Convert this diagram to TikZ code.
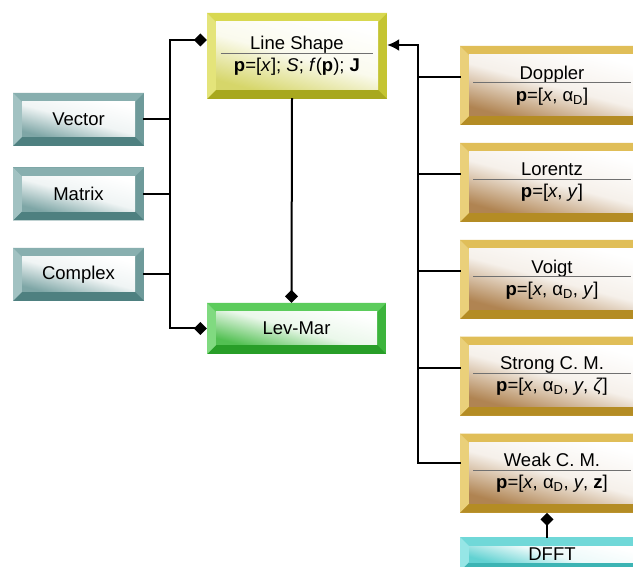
\documentclass[tikz,border=0pt]{standalone}
\usepackage{fontspec}
\setmainfont{Liberation Sans}
\usetikzlibrary{arrows.meta,positioning,calc}

\definecolor{oliveT}{HTML}{D8D850}
\definecolor{oliveL}{HTML}{E4E47A}
\definecolor{oliveR}{HTML}{C4C432}
\definecolor{oliveB}{HTML}{A8A81E}
\definecolor{oliveI}{HTML}{D6D66A}
\definecolor{tealT}{HTML}{88AFAF}
\definecolor{tealL}{HTML}{A2C2C2}
\definecolor{tealR}{HTML}{6E9A9A}
\definecolor{tealB}{HTML}{4E8080}
\definecolor{tealI}{HTML}{7EA6A6}
\definecolor{greenT}{HTML}{5CCC5C}
\definecolor{greenL}{HTML}{80DA80}
\definecolor{greenR}{HTML}{3CB43C}
\definecolor{greenB}{HTML}{289E28}
\definecolor{greenI}{HTML}{52C052}
\definecolor{goldT}{HTML}{E0BE58}
\definecolor{goldL}{HTML}{EAD07A}
\definecolor{goldR}{HTML}{C8A040}
\definecolor{goldB}{HTML}{B48C24}
\definecolor{goldI}{HTML}{B08452}
\definecolor{cyanT}{HTML}{70D8D8}
\definecolor{cyanL}{HTML}{96E6E6}
\definecolor{cyanR}{HTML}{50C8C8}
\definecolor{cyanB}{HTML}{3CB4B4}
\definecolor{cyanI}{HTML}{62D2D2}
\definecolor{sepgray}{HTML}{707070}

\newlength{\bv}\setlength{\bv}{9pt}
\newcommand{\sepline}[1]{\textcolor{sepgray}{\rule{#1}{0.9pt}}}
\newcommand{\pv}{\textbf{p}}
\newcommand{\aD}{α\textsubscript{D}}

\tikzset{
  bevel node/.style n args={5}{rectangle, fill=#3, inner sep=0pt, align=center,
    font=\fontsize{18.5}{20}\selectfont,
    path picture={
      \coordinate (sw) at (path picture bounding box.south west);
      \coordinate (nw) at (path picture bounding box.north west);
      \coordinate (ne) at (path picture bounding box.north east);
      \coordinate (se) at (path picture bounding box.south east);
      \fill[#1] (nw) -- (ne) -- ($(ne)+(-\bv,-\bv)$) -- ($(nw)+(\bv,-\bv)$) -- cycle;
      \fill[#4] (sw) -- (se) -- ($(se)+(-\bv,\bv)$) -- ($(sw)+(\bv,\bv)$) -- cycle;
      \fill[#2] (sw) -- (nw) -- ($(nw)+(\bv,-\bv)$) -- ($(sw)+(\bv,\bv)$) -- cycle;
      \shade[top color=white, bottom color=#5, middle color=#5!12!white, shading angle=-15]
        ($(sw)+(\bv,\bv)$) rectangle ($(ne)+(-\bv,-\bv)$);
    }},
  olive node/.style={bevel node={oliveT}{oliveL}{oliveR}{oliveB}{oliveI},
    minimum width=180pt, minimum height=86pt},
  teal node/.style={bevel node={tealT}{tealL}{tealR}{tealB}{tealI},
    minimum width=131pt, minimum height=53pt},
  green node/.style={bevel node={greenT}{greenL}{greenR}{greenB}{greenI},
    minimum width=179pt, minimum height=51pt},
  gold node/.style={bevel node={goldT}{goldL}{goldR}{goldB}{goldI},
    minimum width=184pt, minimum height=79pt},
  cyan node/.style={bevel node={cyanT}{cyanL}{cyanR}{cyanB}{cyanI},
    minimum width=184pt, minimum height=34pt},
  link/.style={line width=2pt, line cap=rect},
  dia/.style={-{Diamond[length=13pt,width=13pt]}}
}

\begin{document}
\begin{tikzpicture}[x=1pt,y=-1pt]
  \clip (0,0) rectangle (633,567);
  \fill[white] (0,0) rectangle (633,567);

  % centre column
  \node[olive node] (ls) at (297,56)
    {Line Shape\\[-16pt]\sepline{153pt}\\[-2pt]\pv=[\textit{x}]; \textit{S}; \textit{f}(\pv); \textbf{J}};
  \node[green node] (lm) at (296.5,328.5) {Lev-Mar};

  % left column
  \node[teal node] (vec) at (78.5,119.5) {Vector};
  \node[teal node, below=21pt of vec] (mat) {Matrix};
  \node[teal node, below=27pt of mat] (cpx) {Complex};

  % right column
  \node[gold node] (dop) at (552,85.5)
    {Doppler\\[-16pt]\sepline{158pt}\\[-2pt]\pv=[\textit{x}, \aD]};
  \node[gold node, below=17.5pt of dop] (lor)
    {Lorentz\\[-16pt]\sepline{158pt}\\[-2pt]\pv=[\textit{x}, \textit{y}]};
  \node[gold node, below=17.5pt of lor] (voi)
    {Voigt\\[-16pt]\sepline{158pt}\\[-2pt]\pv=[\textit{x}, \aD, \textit{y}]};
  \node[gold node, below=17.5pt of voi] (scm)
    {Strong C. M.\\[-16pt]\sepline{158pt}\\[-2pt]\pv=[\textit{x}, \aD, \textit{y}, \textit{ζ}]};
  \node[gold node, below=17.5pt of scm] (wk)
    {Weak C. M.\\[-16pt]\sepline{158pt}\\[-2pt]\pv=[\textit{x}, \aD, \textit{y}, \textbf{z}]};
  \node[cyan node, below=24pt of wk] (dfft) {DFFT};

  % buses
  \coordinate (lt) at (170,40);
  \coordinate (lb) at (lt |- lm.west);
  \coordinate (rt) at (418,45);

  \draw[link] (lt) -- (lb);
  \draw[link,dia] (lt) -- (lt -| ls.west);
  \draw[link,dia] (lb) -- (lm.west);
  \foreach \n in {vec,mat,cpx}
    \draw[link] (\n.east) -- (\n.east -| lt);
  \draw[link,dia] ([xshift=-5pt]ls.south) -- ([xshift=-5pt]lm.north);

  \draw[link,-{Latex[length=12pt,width=12pt]}] (rt) -- (rt -| ls.east);
  \draw[link] (rt) |- ([yshift=10pt]wk.west);
  \foreach \n in {dop,lor,voi,scm}
    \draw[link] ([yshift=8pt]\n.west) -| (rt);
  \draw[link,dia] ([xshift=-5pt]dfft.north) -- ([xshift=-5pt]wk.south);
\end{tikzpicture}
\end{document}
